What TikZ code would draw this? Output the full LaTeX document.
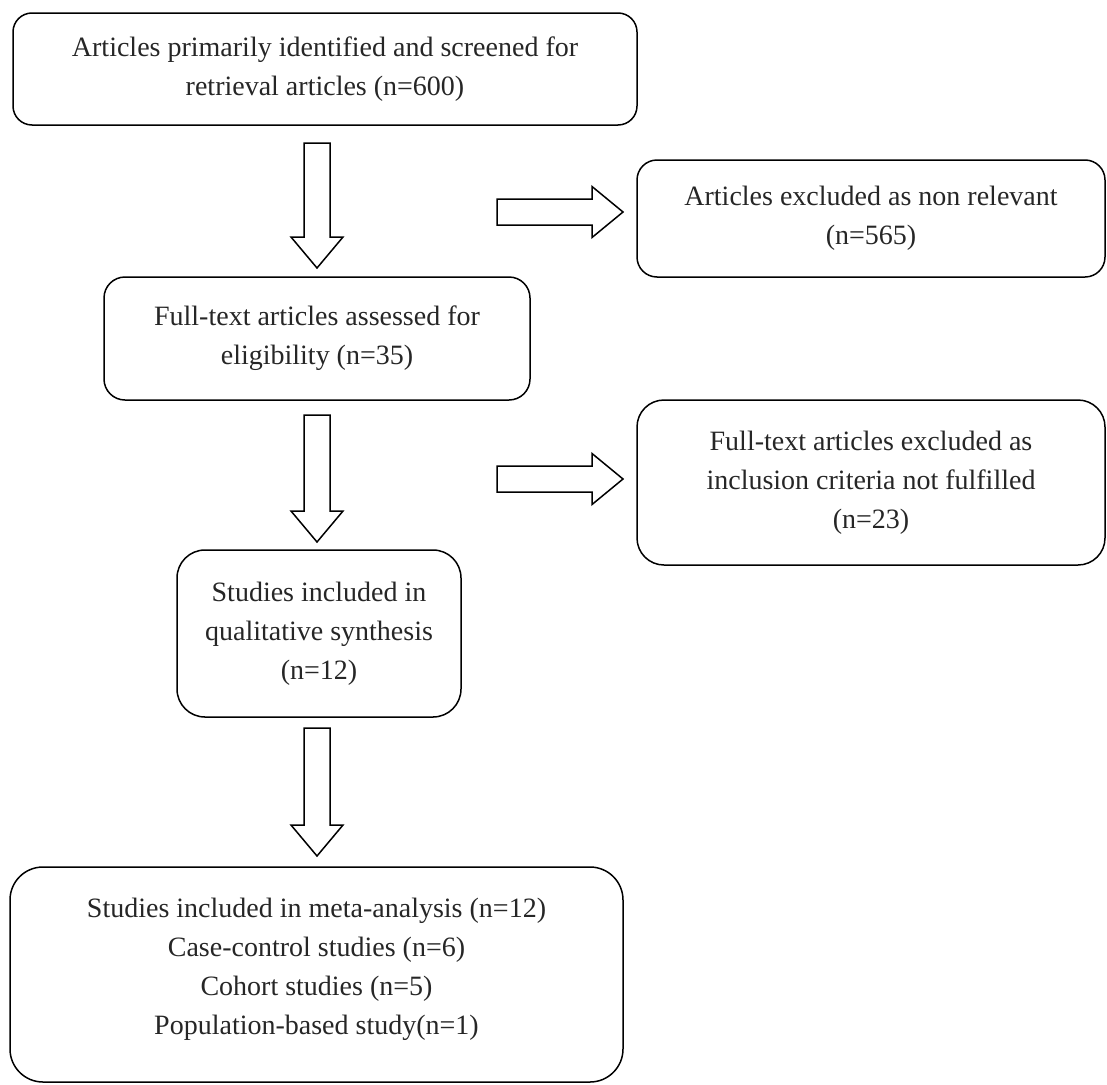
\documentclass[tikz,border=0pt]{standalone}
\usepackage{fontspec}
\setmainfont{Liberation Serif}
\tikzset{
  box/.style={draw, line width=1.5pt, rounded corners=20pt, align=center, inner sep=0pt,
    font=\fontsize{28}{39}\selectfont, text=black!85},
  boxtext/.style={font=\fontsize{28}{39}\selectfont, text=black!85, align=center, inner sep=0pt},
  blockarrow/.style={draw, line width=1.5pt, fill=white, line join=miter},
}
% down block arrow: x center, y top, y tip
\newcommand\dnarr[3]{%
  \draw[blockarrow] (#1-13,#2) -- (#1+13,#2) -- (#1+13,#3-31) -- (#1+26,#3-31) -- (#1,#3)
    -- (#1-26,#3-31) -- (#1-13,#3-31) -- cycle;}
% right block arrow: x left, x tip, y center
\newcommand\rtarr[3]{%
  \draw[blockarrow] (#1,#3-13) -- (#2-31,#3-13) -- (#2-31,#3-25.5) -- (#2,#3)
    -- (#2-31,#3+25.5) -- (#2-31,#3+13) -- (#1,#3+13) -- cycle;}
\begin{document}
\begin{tikzpicture}[x=1pt,y=-1pt]
\useasboundingbox (0,0) rectangle (1107,1084);
\node[box, rounded corners=19pt, minimum width=624pt, minimum height=112pt] (b1) at (325,69)
  {Articles primarily identified and screened for\\retrieval articles (n=600)};
\node[box, rounded corners=20pt, minimum width=468pt, minimum height=117pt] (b2) at (871,218.5)
  {Articles excluded as non relevant\\(n=565)};
\node[box, rounded corners=21pt, minimum width=426pt, minimum height=123pt] (b3) at (317,338.5)
  {Full-text articles assessed for\\eligibility (n=35)};
\node[box, rounded corners=27pt, minimum width=468pt, minimum height=165pt] (b4) at (871,482.5)
  {Full-text articles excluded as\\inclusion criteria not fulfilled\\(n=23)};
\node[box, rounded corners=28pt, minimum width=284pt, minimum height=167pt] (b5) at (319,633.5)
  {Studies included in\\qualitative synthesis\\(n=12)};
\node[box, rounded corners=33pt, minimum width=613pt, minimum height=215pt] (b6) at (316.5,974.5) {};
\node[boxtext] (b6t) at ([yshift=5pt]b6.center)
  {Studies included in meta-analysis (n=12)\\Case-control studies (n=6)\\Cohort studies (n=5)\\Population-based study(n=1)};
\dnarr{317}{143}{268}
\dnarr{317}{415}{542}
\dnarr{317}{728}{856}
\rtarr{497}{623}{212}
\rtarr{497}{623}{479}
\end{tikzpicture}
\end{document}
